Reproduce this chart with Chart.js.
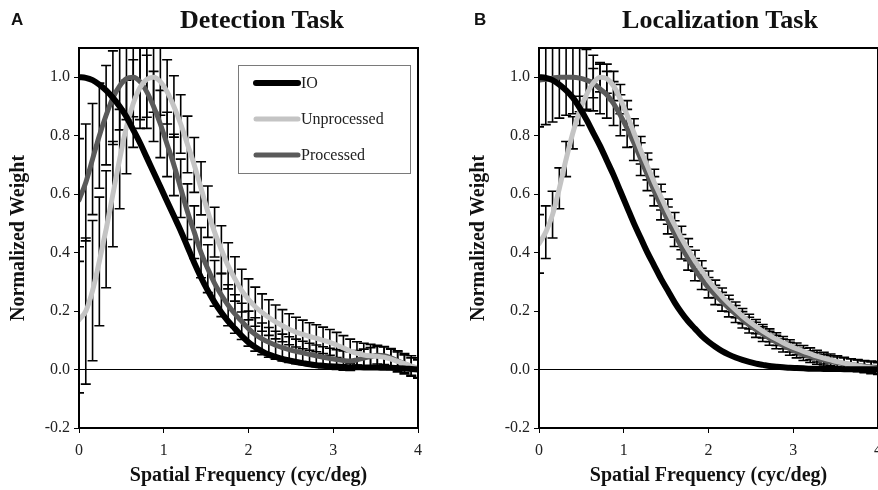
<!DOCTYPE html>
<html>
<head>
<meta charset="utf-8">
<script src="https://cdn.jsdelivr.net/npm/chart.js@4.4.0/dist/chart.umd.min.js"></script>
<style>
  html, body { margin: 0; padding: 0; background: #fff; }
  body { width: 878px; height: 490px; position: relative; overflow: hidden; }
  .panel { position: absolute; top: 0; width: 439px; height: 490px; }
  .letter { position: absolute; top: 10px; font: bold 17px 'Liberation Sans', Arial, sans-serif; color: #111; }
  .title { position: absolute; top: 5px; font: bold 26px 'Liberation Serif', 'Times New Roman', serif; color: #111; transform: translateX(-50%); white-space: nowrap; }
</style>
</head>
<body>
<div class="panel" style="left:0px"><canvas id="detection-chart" width="439" height="490"></canvas></div>
<div class="panel" style="left:460px"><canvas id="localization-chart" width="439" height="490"></canvas></div>
<div class="letter" style="left:11px">A</div>
<div class="letter" style="left:474px">B</div>
<div class="title" style="left:262px">Detection Task</div>
<div class="title" style="left:720px">Localization Task</div>
<script>
// spatial frequency samples (cyc/deg)
const freq = [0, 0.08, 0.16, 0.24, 0.32, 0.4, 0.48, 0.56, 0.64, 0.72, 0.8, 0.88, 0.96, 1.04, 1.12, 1.2,
  1.28, 1.36, 1.44, 1.52, 1.6, 1.68, 1.76, 1.84, 1.92, 2, 2.08, 2.16, 2.24, 2.32, 2.4, 2.48, 2.56, 2.64,
  2.72, 2.8, 2.88, 2.96, 3.04, 3.12, 3.2, 3.28, 3.36, 3.44, 3.52, 3.6, 3.68, 3.76, 3.84, 3.92, 4];

const seriesLabels = ['IO', 'Unprocessed', 'Processed'];
const yTicks = [-0.2, 0, 0.2, 0.4, 0.6, 0.8, 1.0];
const xTicks = [0, 1, 2, 3, 4];

// Detection task
const ioDetect = [1.0, 0.998, 0.99, 0.975, 0.955, 0.93, 0.9, 0.865, 0.82, 0.775, 0.725, 0.675, 0.625, 0.575, 0.525, 0.475,
  0.42, 0.365, 0.315, 0.27, 0.23, 0.195, 0.165, 0.14, 0.115, 0.093, 0.076, 0.062, 0.051, 0.043, 0.036, 0.031, 0.026, 0.022,
  0.018, 0.015, 0.013, 0.011, 0.01, 0.009, 0.008, 0.008, 0.007, 0.007, 0.007, 0.006, 0.006, 0.005, 0.004, 0.002, 0.0];
const unprocDetect = [0.17, 0.2, 0.27, 0.37, 0.48, 0.6, 0.72, 0.83, 0.91, 0.965, 0.993, 1.0, 0.985, 0.95, 0.9, 0.84,
  0.77, 0.7, 0.62, 0.54, 0.47, 0.41, 0.355, 0.31, 0.27, 0.24, 0.215, 0.195, 0.178, 0.163, 0.15, 0.138, 0.128, 0.12,
  0.113, 0.107, 0.1, 0.093, 0.084, 0.074, 0.063, 0.055, 0.05, 0.047, 0.045, 0.042, 0.036, 0.028, 0.02, 0.012, 0.005];
const procDetect = [0.58, 0.64, 0.72, 0.8, 0.87, 0.93, 0.97, 0.995, 1.0, 0.985, 0.95, 0.9, 0.84, 0.77, 0.7, 0.62,
  0.54, 0.47, 0.4, 0.345, 0.295, 0.255, 0.22, 0.19, 0.165, 0.14, 0.12, 0.105, 0.093, 0.083, 0.075, 0.068, 0.062, 0.057,
  0.052, 0.047, 0.042, 0.038, 0.034, 0.031, 0.029, 0.033, 0.039, 0.044, 0.049, 0.047, 0.04, 0.03, 0.02, 0.01, 0.003];
const unprocErrDetect = [0.25, 0.25, 0.24, 0.22, 0.2, 0.18, 0.17, 0.16, 0.15, 0.14, 0.13, 0.12, 0.115, 0.11, 0.105, 0.1,
  0.097, 0.094, 0.091, 0.088, 0.085, 0.082, 0.079, 0.076, 0.073, 0.07, 0.067, 0.064, 0.061, 0.058, 0.055, 0.053, 0.051, 0.049,
  0.047, 0.046, 0.045, 0.044, 0.043, 0.042, 0.041, 0.04, 0.04, 0.039, 0.038, 0.037, 0.036, 0.036, 0.035, 0.035, 0.035];
const procErrDetect = [0.21, 0.2, 0.19, 0.18, 0.17, 0.16, 0.15, 0.14, 0.135, 0.13, 0.125, 0.12, 0.115, 0.11, 0.105, 0.1,
  0.095, 0.09, 0.086, 0.082, 0.078, 0.074, 0.07, 0.066, 0.062, 0.06, 0.057, 0.054, 0.051, 0.048, 0.046, 0.044, 0.042, 0.04,
  0.038, 0.037, 0.036, 0.035, 0.034, 0.033, 0.032, 0.032, 0.031, 0.031, 0.03, 0.03, 0.03, 0.03, 0.03, 0.03, 0.03];

// Localization task
const ioLocal = [1.0, 0.998, 0.99, 0.975, 0.955, 0.93, 0.895, 0.855, 0.81, 0.765, 0.715, 0.665, 0.61, 0.555, 0.5, 0.45,
  0.4, 0.355, 0.31, 0.27, 0.23, 0.195, 0.165, 0.14, 0.115, 0.095, 0.078, 0.063, 0.051, 0.041, 0.033, 0.026, 0.02, 0.016,
  0.012, 0.01, 0.008, 0.006, 0.005, 0.004, 0.003, 0.003, 0.002, 0.002, 0.002, 0.001, 0.001, 0.001, 0.001, 0.001, 0.001];
const unprocLocal = [0.43, 0.47, 0.53, 0.62, 0.72, 0.81, 0.885, 0.94, 0.98, 1.0, 0.995, 0.97, 0.925, 0.87, 0.81, 0.75,
  0.695, 0.64, 0.59, 0.54, 0.495, 0.45, 0.41, 0.372, 0.338, 0.305, 0.276, 0.25, 0.226, 0.204, 0.183, 0.164, 0.147, 0.131,
  0.117, 0.104, 0.092, 0.081, 0.071, 0.062, 0.054, 0.046, 0.039, 0.033, 0.027, 0.022, 0.017, 0.013, 0.009, 0.006, 0.003];
const procLocal = [0.99, 0.993, 0.997, 1.0, 1.0, 1.0, 0.997, 0.99, 0.98, 0.96, 0.94, 0.91, 0.87, 0.825, 0.775, 0.72,
  0.665, 0.61, 0.56, 0.51, 0.465, 0.42, 0.38, 0.342, 0.31, 0.28, 0.255, 0.232, 0.21, 0.19, 0.17, 0.152, 0.136, 0.121,
  0.107, 0.094, 0.082, 0.071, 0.061, 0.052, 0.044, 0.038, 0.032, 0.027, 0.023, 0.02, 0.017, 0.014, 0.011, 0.009, 0.007];
const unprocErrLocal = [0.1, 0.09, 0.08, 0.07, 0.06, 0.055, 0.05, 0.05, 0.05, 0.05, 0.05, 0.05, 0.05, 0.05, 0.048, 0.047,
  0.046, 0.045, 0.044, 0.043, 0.042, 0.04, 0.038, 0.036, 0.034, 0.032, 0.03, 0.029, 0.028, 0.027, 0.026, 0.025, 0.024, 0.023,
  0.022, 0.022, 0.021, 0.021, 0.02, 0.02, 0.02, 0.02, 0.02, 0.02, 0.02, 0.02, 0.02, 0.02, 0.02, 0.02, 0.02];
const procErrLocal = [0.16, 0.155, 0.15, 0.14, 0.13, 0.125, 0.115, 0.105, 0.095, 0.085, 0.08, 0.075, 0.07, 0.065, 0.06, 0.056,
  0.053, 0.05, 0.048, 0.046, 0.044, 0.042, 0.04, 0.038, 0.036, 0.035, 0.033, 0.032, 0.03, 0.029, 0.028, 0.027, 0.026, 0.025,
  0.024, 0.023, 0.022, 0.022, 0.021, 0.021, 0.02, 0.02, 0.02, 0.02, 0.02, 0.02, 0.02, 0.02, 0.02, 0.02, 0.02];

const lineColors = ['#000000', '#c4c4c4', '#5a5a5a'];
const serif = "'Liberation Serif', 'Times New Roman', serif";

const toPoints = (vals) => vals.map((v, i) => ({ x: freq[i], y: v }));

// black error bars, drawn under the curves and clipped to the plot box
const errorBars = {
  id: 'errorBars',
  beforeDatasetsDraw(chart) {
    const { ctx, chartArea, scales: { x, y } } = chart;
    ctx.save();
    ctx.beginPath();
    ctx.rect(chartArea.left, chartArea.top, chartArea.width, chartArea.height);
    ctx.clip();
    ctx.strokeStyle = '#000';
    ctx.lineWidth = 1.6;
    const cap = 5;
    chart.data.datasets.forEach(ds => {
      if (!ds.errors) return;
      ds.data.forEach((pt, i) => {
        const e = ds.errors[i];
        const px = x.getPixelForValue(pt.x);
        const top = y.getPixelForValue(pt.y + e);
        const bot = y.getPixelForValue(pt.y - e);
        ctx.beginPath();
        ctx.moveTo(px, top); ctx.lineTo(px, bot);
        ctx.moveTo(px - cap, top); ctx.lineTo(px + cap, top);
        ctx.moveTo(px - cap, bot); ctx.lineTo(px + cap, bot);
        ctx.stroke();
      });
    });
    ctx.restore();
  }
};

// frame round the plot area
const plotFrame = {
  id: 'plotFrame',
  afterDraw(chart) {
    const { ctx, chartArea } = chart;
    ctx.save();
    ctx.strokeStyle = '#000';
    ctx.lineWidth = 2;
    ctx.strokeRect(chartArea.left, chartArea.top, chartArea.width, chartArea.height);
    ctx.restore();
  }
};

// boxed legend inside the plot, as in the figure
const boxLegend = {
  id: 'boxLegend',
  afterDraw(chart, args, opts) {
    if (!opts.show) return;
    const { ctx, chartArea } = chart;
    const left = chartArea.left + 159, top = chartArea.top + 17;
    ctx.save();
    ctx.fillStyle = '#fff';
    ctx.fillRect(left, top, 172, 108);
    ctx.strokeStyle = '#7a7a7a';
    ctx.lineWidth = 1;
    ctx.strokeRect(left + 0.5, top + 0.5, 172, 108);
    ctx.font = '16px ' + serif;
    ctx.textBaseline = 'middle';
    chart.data.datasets.forEach((ds, i) => {
      const cy = top + 18 + i * 36;
      ctx.strokeStyle = ds.borderColor;
      ctx.lineWidth = ds.borderWidth;
      ctx.lineCap = 'round';
      ctx.beginPath();
      ctx.moveTo(left + 18, cy);
      ctx.lineTo(left + 60, cy);
      ctx.stroke();
      ctx.fillStyle = '#222';
      ctx.fillText(ds.label, left + 63, cy + 1);
    });
    ctx.restore();
  }
};

function makePanel(canvasId, io, unproc, proc, unprocErr, procErr, showLegend) {
  const container = document.getElementById(canvasId).getContext('2d');
  return new Chart(container, {
    type: 'line',
    data: {
      datasets: [
        { label: seriesLabels[0], data: toPoints(io), borderColor: lineColors[0], borderWidth: 6 },
        { label: seriesLabels[1], data: toPoints(unproc), errors: unprocErr, borderColor: lineColors[1], borderWidth: 5 },
        { label: seriesLabels[2], data: toPoints(proc), errors: procErr, borderColor: lineColors[2], borderWidth: 5 },
      ]
    },
    options: {
      responsive: false,
      animation: false,
      elements: {
        point: { radius: 0 },
        line: { tension: 0.4, cubicInterpolationMode: 'monotone', borderCapStyle: 'round', fill: false }
      },
      layout: { padding: { top: 48, right: 21, bottom: 0, left: 0 } },
      plugins: {
        legend: { display: false },
        tooltip: { enabled: false },
        boxLegend: { show: showLegend },
      },
      scales: {
        x: {
          type: 'linear',
          min: 0,
          max: 4,
          afterBuildTicks: (axis) => { axis.ticks = xTicks.map(v => ({ value: v })); },
          afterFit: (axis) => { axis.height = 62; },
          grid: { drawOnChartArea: false, tickLength: 5, tickColor: '#000' },
          border: { display: false },
          ticks: { color: '#222', font: { family: serif, size: 16 }, padding: 8, maxRotation: 0 },
          title: {
            display: true,
            text: 'Spatial Frequency (cyc/deg)',
            color: '#111',
            font: { family: serif, size: 20, weight: 'bold' },
            padding: { top: 0, bottom: 2 }
          }
        },
        y: {
          min: -0.2,
          max: 1.1,
          afterBuildTicks: (axis) => { axis.ticks = yTicks.map(v => ({ value: v })); },
          afterFit: (axis) => { axis.width = 79; },
          grid: {
            color: (c) => c.tick && c.tick.value === 0 ? '#000' : 'rgba(0,0,0,0)',
            lineWidth: 1,
            tickLength: 5,
            tickColor: '#000'
          },
          border: { display: false },
          ticks: {
            color: '#222',
            font: { family: serif, size: 16 },
            padding: 4,
            callback: (v) => v.toFixed(1)
          },
          title: {
            display: true,
            text: 'Normalized Weight',
            color: '#111',
            font: { family: serif, size: 20, weight: 'bold' },
            padding: { top: 7, bottom: 0 }
          }
        }
      }
    },
    plugins: [errorBars, plotFrame, boxLegend]
  });
}

makePanel('detection-chart', ioDetect, unprocDetect, procDetect, unprocErrDetect, procErrDetect, true);
makePanel('localization-chart', ioLocal, unprocLocal, procLocal, unprocErrLocal, procErrLocal, false);
</script>
</body>
</html>
